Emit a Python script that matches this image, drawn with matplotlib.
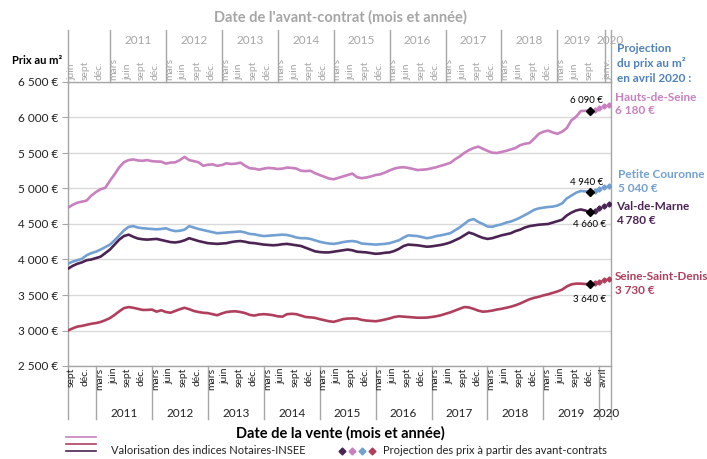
"""
Prix au m² : indices Notaires-INSEE et projection à partir des avant-contrats.
"""
import matplotlib.pyplot as plt
import matplotlib.transforms as mtransforms
import numpy as np

plt.rcParams['font.family'] = ['Lato', 'DejaVu Sans']

# Séries mensuelles (sept. 2010 -> déc. 2019), en €/m²
hauts_de_seine = [
    4730, 4770, 4800, 4815, 4830, 4900, 4950, 4990, 5010, 5110,
    5200, 5300, 5370, 5400, 5410, 5395, 5390, 5400, 5385, 5380,
    5378, 5350, 5365, 5368, 5400, 5445, 5400, 5385, 5370, 5320,
    5335, 5340, 5320, 5330, 5355, 5345, 5350, 5365, 5320, 5285,
    5280, 5265, 5280, 5290, 5285, 5275, 5280, 5295, 5290, 5280,
    5250, 5245, 5250, 5215, 5190, 5165, 5140, 5130, 5150, 5170,
    5190, 5210, 5160, 5145, 5155, 5170, 5190, 5200, 5225, 5255,
    5280, 5295, 5300, 5290, 5275, 5260, 5265, 5270, 5285, 5300,
    5320, 5340, 5360, 5410, 5450, 5500, 5540, 5570, 5590, 5560,
    5530, 5505, 5500, 5515, 5530, 5550, 5570, 5610, 5630, 5640,
    5700, 5770, 5800, 5815, 5790, 5770, 5800, 5850, 5960, 6010,
    6090, 6095, 6090,
]
petite_couronne = [
    3940, 3970, 3990, 4010, 4060, 4090, 4110, 4140, 4175, 4210,
    4270, 4340, 4410, 4460, 4470, 4450, 4440, 4435, 4430, 4425,
    4430, 4440, 4415, 4400, 4405, 4420, 4470, 4450, 4430, 4415,
    4400, 4385, 4370, 4375, 4380, 4385, 4390, 4395, 4380, 4360,
    4355, 4340, 4330, 4335, 4340, 4345, 4350, 4345, 4330, 4310,
    4300, 4300, 4290, 4270, 4250, 4235, 4225, 4220, 4230, 4245,
    4255, 4260, 4250, 4225, 4220, 4215, 4210, 4215, 4220, 4230,
    4250, 4270, 4310, 4340, 4335, 4330, 4315, 4300, 4310, 4330,
    4340, 4355, 4370, 4410, 4450, 4500, 4550, 4570, 4530, 4500,
    4465, 4460, 4480, 4495, 4520, 4535, 4560, 4590, 4625, 4660,
    4700, 4720, 4730, 4740, 4745, 4760, 4790, 4860, 4900, 4940,
    4965, 4960, 4950,
]
val_de_marne = [
    3870, 3910, 3940, 3960, 3990, 4000, 4020, 4040, 4090, 4140,
    4210, 4280, 4330, 4350, 4320, 4295, 4285, 4280, 4285, 4290,
    4275, 4260, 4245, 4240, 4250, 4270, 4300, 4280, 4260, 4245,
    4230, 4225, 4220, 4225, 4230, 4245, 4255, 4260, 4250, 4235,
    4230, 4220, 4210, 4205, 4200, 4205, 4215, 4220, 4210, 4200,
    4190, 4165, 4140, 4115, 4105, 4100, 4100, 4110, 4120, 4130,
    4140, 4130, 4110, 4105, 4100, 4090, 4080, 4085, 4095, 4100,
    4120, 4150, 4190, 4210, 4205, 4200, 4190, 4180, 4185, 4195,
    4205, 4220, 4240, 4270, 4300, 4340, 4380, 4360, 4330, 4305,
    4290, 4300, 4320, 4340, 4355, 4370, 4400, 4420, 4450, 4470,
    4480, 4490, 4495, 4500, 4520, 4540, 4560, 4620, 4660, 4690,
    4705, 4690, 4665,
]
seine_saint_denis = [
    3000, 3030, 3055, 3065, 3080, 3095, 3105, 3120, 3145, 3175,
    3220, 3270, 3315, 3330, 3320, 3305, 3290, 3290, 3295, 3265,
    3285, 3260, 3250, 3275, 3300, 3320, 3300, 3275, 3260, 3250,
    3245, 3230, 3215, 3240, 3260, 3268, 3270, 3260, 3245, 3220,
    3210, 3225, 3230, 3225, 3215, 3200, 3195, 3230, 3235, 3230,
    3210, 3190, 3185, 3178, 3160, 3145, 3130, 3122, 3140, 3160,
    3168, 3170, 3168, 3150, 3140, 3135, 3130, 3140, 3155, 3170,
    3190, 3200, 3195, 3190, 3185, 3180, 3180, 3182, 3190, 3200,
    3215, 3235, 3255, 3280, 3305, 3330, 3325, 3305, 3280, 3265,
    3270, 3280, 3295, 3305, 3320, 3335, 3355, 3380, 3410, 3440,
    3460, 3475, 3495, 3510, 3530, 3550, 3575, 3620, 3650, 3660,
    3660, 3655, 3650,
]

# Projection janv. -> avril 2020
proj_hds = [6110, 6135, 6160, 6180]
proj_pc = [4965, 4990, 5015, 5040]
proj_vdm = [4690, 4720, 4750, 4780]
proj_ssd = [3665, 3690, 3710, 3730]

valeurs_fin = ['6 090 €', '4 940 €', '4 660 €', '3 640 €']
noms = ['Hauts-de-Seine', 'Petite Couronne', 'Val-de-Marne', 'Seine-Saint-Denis']
valeurs_avril = ['6 180 €', '5 040 €', '4 780 €', '3 730 €']

# Axe du bas (date de la vente) et axe du haut (date de l'avant-contrat)
mois_vente = ['sept', 'déc.'] + ['mars', 'juin', 'sept', 'déc.'] * 9
annees_vente = ['2011', '2012', '2013', '2014', '2015', '2016', '2017', '2018', '2019']
mois_avant = ['juin', 'sept', 'déc.'] + ['mars', 'juin', 'sept', 'déc.'] * 8 + ['mars', 'juin', 'sept']
annees_avant = annees_vente

couleurs = ['#C880BE', '#73A0D2', '#4B2453', '#B03F5E']
gris = '#A6A6A6'


def fpx(x, y):
    return x / 707, 1 - y / 459


fig = plt.figure(figsize=(7.07, 4.59), dpi=100)
ax = fig.add_axes([68 / 707, 1 - 366 / 459, 543 / 707, 284 / 459])

series = [hauts_de_seine, petite_couronne, val_de_marne, seine_saint_denis]
projs = [proj_hds, proj_pc, proj_vdm, proj_ssd]
n = len(hauts_de_seine)
x = np.arange(n)
xp = np.arange(n - 1, n + len(proj_hds))

for serie, proj, c in zip(series, projs, couleurs):
    ax.plot(x, serie, color=c, lw=1.9, solid_capstyle='round', zorder=3)
    ax.plot(xp[1:], proj, color=c, ls='none', marker='D', ms=2.6, zorder=4)
    ax.plot(xp, [serie[-1]] + proj, color=c, ls=':', lw=1.4, zorder=3)
    ax.plot(x[-1], serie[-1], marker='D', color='black', ms=4, zorder=5)

ax.set_xlim(0, 116.5)
ax.set_ylim(2500, 6500)
yt = np.arange(2500, 6501, 500)
ax.set_yticks(yt)
ax.set_yticklabels([f'{v:,.0f} €'.replace(',', ' ') for v in yt], fontsize=8.5, color='#222222')
ax.tick_params(axis='y', length=4, color=gris, pad=3)
ax.set_xticks([])
ax.grid(True, axis='y', color='#D9D9D9', lw=1)
for s in ['left', 'bottom', 'top', 'right']:
    ax.spines[s].set_color(gris)
    ax.spines[s].set_linewidth(1)

# Étiquettes des valeurs de fin
ax.text(x[-1] + 2.8, hauts_de_seine[-1] + 145, valeurs_fin[0], fontsize=7, ha='right', va='center')
ax.text(x[-1] + 2.8, petite_couronne[-1] + 140, valeurs_fin[1], fontsize=7, ha='right', va='center')
ax.text(x[-1] + 3.5, val_de_marne[-1] - 175, valeurs_fin[2], fontsize=7, ha='right', va='center')
ax.text(x[-1] + 3.5, seine_saint_denis[-1] - 210, valeurs_fin[3], fontsize=7, ha='right', va='center')

trans = mtransforms.blended_transform_factory(ax.transData, ax.transAxes)

# Axe du bas
for k, m in enumerate(mois_vente):
    ax.text(3 * k + 0.75, -0.006, m, rotation=90, ha='center', va='top',
            fontsize=7.5, color='#222222', transform=trans)
ax.text(114.8, -0.006, 'avril', rotation=90, ha='center', va='top',
        fontsize=7.5, color='#222222', transform=trans)
sep_bas = [0, 6, 18, 30, 42, 54, 66, 78, 90, 102, 114, 116.5]
for s in sep_bas:
    ax.plot([s, s], [0, -0.185], color=gris, lw=1, transform=trans, clip_on=False)
for j, a in enumerate(annees_vente):
    ax.text(12 + 12 * j, -0.168, a, ha='center', va='center', fontsize=8.5,
            color='#222222', transform=trans)
ax.text(115.4, -0.168, '2020', ha='center', va='center', fontsize=8.5,
        color='#222222', transform=trans)

# Axe du haut
for k, m in enumerate(mois_avant):
    ax.text(3 * k + 0.75, 1.006, m, rotation=90, ha='center', va='bottom',
            fontsize=7.5, color=gris, transform=trans)
ax.text(115.9, 1.006, 'janv.', rotation=90, ha='center', va='bottom',
        fontsize=7.5, color=gris, transform=trans)
sep_haut = [0, 9, 21, 33, 45, 57, 69, 81, 93, 105, 115.2, 116.5]
for s in sep_haut:
    ax.plot([s, s], [1, 1.183], color=gris, lw=1, transform=trans, clip_on=False)
for j, a in enumerate(annees_avant[:-1]):
    ax.text(15 + 12 * j, 1.145, a, ha='center', va='center', fontsize=8.5,
            color=gris, transform=trans)
ax.text(109.2, 1.145, annees_avant[-1], ha='center', va='center', fontsize=8.5,
        color=gris, transform=trans)
ax.text(116.3, 1.145, '2020', ha='center', va='center', fontsize=8.5,
        color=gris, transform=trans)

# Titres
fig.text(*fpx(340, 17), "Date de l'avant-contrat (mois et année)", ha='center', va='center',
         fontsize=10.5, fontweight='bold', color=gris)
fig.text(*fpx(340, 433), 'Date de la vente (mois et année)', ha='center', va='center',
         fontsize=10.5, fontweight='bold', color='black')
fig.text(*fpx(62, 61), 'Prix au m²', ha='right', va='center', fontsize=8,
         fontweight='bold', color='black')

# Annotations à droite
bleu_titre = '#4F81BD'
fig.text(*fpx(617, 48), 'Projection', fontsize=8.5, fontweight='bold', color=bleu_titre, va='center')
fig.text(*fpx(617, 63), 'du prix au m²', fontsize=8.5, fontweight='bold', color=bleu_titre, va='center')
fig.text(*fpx(617, 78), 'en avril 2020 :', fontsize=8.5, fontweight='bold', color=bleu_titre, va='center')
pos_noms = [(615, 97), (618, 175), (616, 206), (615, 276)]
for (px, py), nom, val, c in zip(pos_noms, noms, valeurs_avril, couleurs):
    fig.text(*fpx(px, py), nom, fontsize=8.5, fontweight='bold', color=c, va='center')
    fig.text(*fpx(px, py + 14), val, fontsize=8.5, fontweight='bold', color=c, va='center')

# Légende
for yy, c in zip([437, 444, 451], [couleurs[0], couleurs[3], couleurs[2]]):
    x0, y0 = fpx(66, yy)
    x1, _ = fpx(96, yy)
    fig.add_artist(plt.Line2D([x0, x1], [y0, y0], color=c, lw=1.2))
fig.text(*fpx(111, 451), 'Valorisation des indices Notaires-INSEE', fontsize=8,
         va='center', color='#222222')
for xx, c in zip([342, 352, 362, 372], [couleurs[2], couleurs[0], couleurs[1], couleurs[3]]):
    fig.add_artist(plt.Line2D([xx / 707], [1 - 451 / 459], marker='D', ms=3.5,
                              color=c, ls='none'))
fig.text(*fpx(383, 451), 'Projection des prix à partir des avant-contrats', fontsize=8,
         va='center', color='#222222')

fig.savefig('out.png', dpi=100)
